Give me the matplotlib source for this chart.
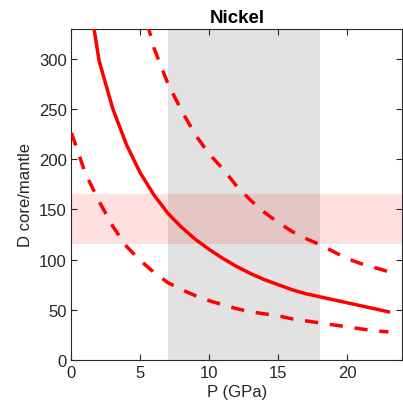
import numpy as np
import matplotlib
matplotlib.use('Agg')
import matplotlib.pyplot as plt

plt.rcParams['font.family'] = ['Liberation Sans', 'DejaVu Sans']

# pressure grid (GPa)
pressure = [0, 1, 2, 3, 4, 5, 6, 7, 8, 9, 10, 11, 12, 13, 14, 15, 16, 17, 18, 19, 20, 21, 22, 23]
# D core/mantle, central estimate
d_mid = [480, 385, 298, 250, 214, 186, 164, 146, 132, 120, 110, 101, 93, 86, 80, 75, 70,
         66, 63, 60, 57, 54, 51, 48]
# upper and lower bounds
d_high = [900, 720, 560, 470, 410, 360, 310, 275, 248, 224, 205, 190, 173, 159, 147, 137,
          128, 121, 115, 108, 101, 96, 92, 88]
d_low = [226, 186, 158, 133, 113, 99, 87, 77, 70, 64, 59, 55, 51, 48, 46, 44, 41, 39, 37,
         35, 33, 31, 29, 28]

p_range = (7, 18)
d_range = (115, 165)

fig = plt.figure(figsize=(4.03, 4.14), dpi=100)
ax = fig.add_axes([0.1774, 0.128, 0.8206, 0.8007])

ax.axvspan(p_range[0], p_range[1], color='#7f7f7f', alpha=0.22, lw=0, zorder=1)
ax.axhspan(d_range[0], d_range[1], color='#ff0000', alpha=0.12, lw=0, zorder=1)

ax.plot(pressure, d_mid, color='red', lw=2.5, zorder=3)
ax.plot(pressure, d_high, color='red', lw=2.5, ls=(0, (3.8, 3.4)), zorder=3)
ax.plot(pressure, d_low, color='red', lw=2.5, ls=(0, (3.8, 3.4)), zorder=3)

ax.set_xlim(0, 24)
ax.set_ylim(0, 330)
ax.set_xticks([0, 5, 10, 15, 20])
ax.set_yticks([0, 50, 100, 150, 200, 250, 300])

ax.tick_params(direction='in', top=True, right=True, labelsize=12, colors='#262626',
               length=4, width=0.8)
for s in ax.spines.values():
    s.set_color('#262626')
    s.set_linewidth(0.8)

ax.set_xlabel('P (GPa)', fontsize=12, color='#262626', labelpad=3)
ax.set_ylabel('D core/mantle', fontsize=12, color='#262626', labelpad=4)
ax.set_title('Nickel', fontsize=13.5, fontweight='bold', pad=4.5)

fig.savefig('out.png', dpi=100)
